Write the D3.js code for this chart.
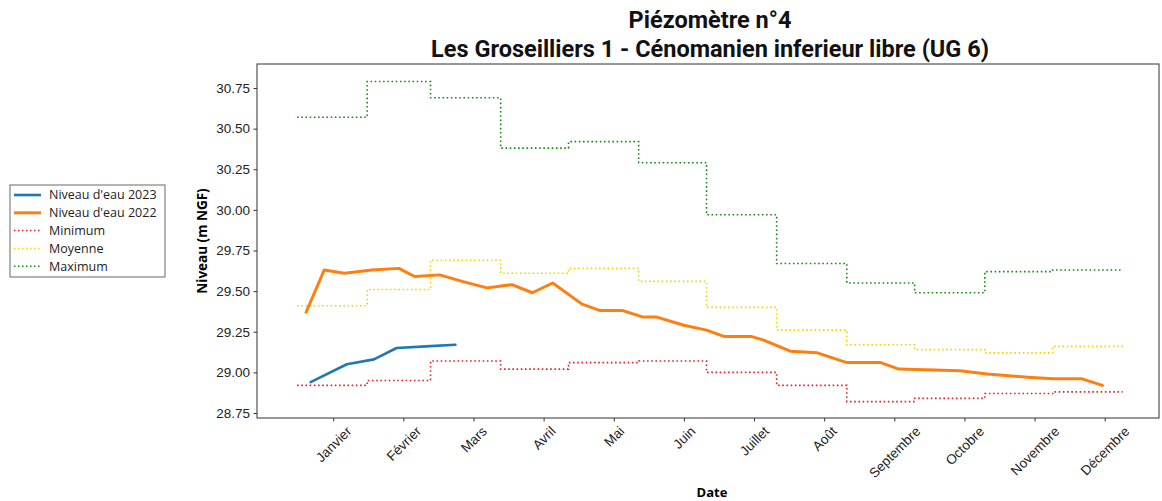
<!DOCTYPE html>
<html>
<head>
<meta charset="utf-8">
<script src="https://cdn.jsdelivr.net/npm/d3@7"></script>
<style>
  body { margin: 0; background: #fff; }
  svg { display: block; font-family: "Open Sans", sans-serif; }
  .tick text { fill: #222; }
</style>
</head>
<body>
<svg width="1162" height="501"></svg>
<script>
// day of year (0 = 1er janvier) for month starts, and end of year
var monthStarts = [0, 31, 59, 90, 120, 151, 181, 212, 243, 273, 304, 334, 365];

// monthly statistics
var minimum = [28.92, 28.95, 29.07, 29.02, 29.06, 29.07, 29.00, 28.92, 28.82, 28.84, 28.87, 28.88];
var moyenne = [29.41, 29.51, 29.69, 29.61, 29.64, 29.56, 29.40, 29.26, 29.17, 29.14, 29.12, 29.16];
var maximum = [30.57, 30.79, 30.69, 30.38, 30.42, 30.29, 29.97, 29.67, 29.55, 29.49, 29.62, 29.63];

// water level readings (day of year, value)
var days2022 = [4, 12, 21, 33, 45, 52, 63, 73, 84, 95, 104, 113, 126, 134, 144, 153, 159, 171, 181, 189, 201, 206, 218, 230, 243, 258, 266, 293, 305, 323, 334, 347, 356];
var niveau2022 = [29.37, 29.63, 29.61, 29.63, 29.64, 29.59, 29.60, 29.56, 29.52, 29.54, 29.49, 29.55, 29.42, 29.38, 29.38, 29.34, 29.34, 29.29, 29.26, 29.22, 29.22, 29.20, 29.13, 29.12, 29.06, 29.06, 29.02, 29.01, 28.99, 28.97, 28.96, 28.96, 28.92];
var days2023 = [6, 22, 34, 44, 57, 70];
var niveau2023 = [28.94, 29.05, 29.08, 29.15, 29.16, 29.17];

var tickDays = [16, 47, 78, 109, 140, 171, 202, 233, 264, 295, 326, 357];
var tickLabels = ["Janvier", "Février", "Mars", "Avril", "Mai", "Juin", "Juillet", "Août", "Septembre", "Octobre", "Novembre", "Décembre"];
var yTicks = [28.75, 29.00, 29.25, 29.50, 29.75, 30.00, 30.25, 30.50, 30.75];

var svg = d3.select("svg"),
    plotLeft = 257, plotRight = 1159, plotTop = 64, plotBottom = 418;

var x = d3.scaleLinear().domain([-17.7, 381]).range([plotLeft, plotRight]);
var y = d3.scaleLinear().domain([28.719, 30.898]).range([plotBottom, plotTop]);

// title
var title = svg.append("text")
    .attr("x", 710).attr("y", 28)
    .attr("text-anchor", "middle")
    .style("font-family", "Roboto, sans-serif")
    .style("font-weight", "bold")
    .style("font-size", "23.5px")
    .style("fill", "#111");
title.append("tspan").attr("x", 710).attr("dy", 0).text("Piézomètre n°4");
title.append("tspan").attr("x", 710).attr("dy", 29).text("Les Groseilliers 1 - Cénomanien inferieur libre (UG 6)");

// step series
function stepPoints(vals) {
  var pts = vals.map(function (v, i) { return [monthStarts[i], v]; });
  pts.push([monthStarts[12], vals[vals.length - 1]]);
  return pts;
}
var stepLine = d3.line()
    .x(function (d) { return x(d[0]); })
    .y(function (d) { return y(d[1]); })
    .curve(d3.curveStepAfter);
var plainLine = d3.line()
    .x(function (d) { return x(d[0]); })
    .y(function (d) { return y(d[1]); });

var stats = [
  { name: "Minimum", vals: minimum, color: "#e8202a" },
  { name: "Moyenne", vals: moyenne, color: "#f5d400" },
  { name: "Maximum", vals: maximum, color: "#1a8a1a" }
];

svg.selectAll("path.stat")
    .data(stats)
    .enter().append("path")
    .attr("class", "stat")
    .attr("d", function (d) { return stepLine(stepPoints(d.vals)); })
    .attr("fill", "none")
    .attr("stroke", function (d) { return d.color; })
    .attr("stroke-width", 1.6)
    .attr("stroke-dasharray", "1.6,2.6");

var levels = [
  { name: "Niveau d'eau 2022", pts: days2022.map(function (d, i) { return [d, niveau2022[i]]; }), color: "#ff7f0e", w: 3 },
  { name: "Niveau d'eau 2023", pts: days2023.map(function (d, i) { return [d, niveau2023[i]]; }), color: "#1f77b4", w: 2.6 }
];

svg.selectAll("path.level")
    .data(levels)
    .enter().append("path")
    .attr("class", "level")
    .attr("d", function (d) { return plainLine(d.pts); })
    .attr("fill", "none")
    .attr("stroke", function (d) { return d.color; })
    .attr("stroke-width", function (d) { return d.w; })
    .attr("stroke-linejoin", "round")
    .attr("stroke-linecap", "round");

// frame
svg.append("rect")
    .attr("x", plotLeft).attr("y", plotTop)
    .attr("width", plotRight - plotLeft).attr("height", plotBottom - plotTop)
    .attr("fill", "none").attr("stroke", "#333").attr("stroke-width", 1);

// y axis
var yAxis = svg.append("g")
    .attr("transform", "translate(" + plotLeft + ",0)")
    .call(d3.axisLeft(y).tickValues(yTicks).tickFormat(d3.format(".2f")).tickSize(3.5).tickPadding(3.5));
yAxis.select(".domain").remove();
yAxis.selectAll("text").style("font-size", "13.5px");
yAxis.selectAll("line").attr("stroke", "#333");

// x axis
var xAxis = svg.append("g")
    .attr("transform", "translate(0," + plotBottom + ")")
    .call(d3.axisBottom(x).tickValues(tickDays).tickFormat(function (d, i) { return tickLabels[i]; }).tickSize(3.5));
xAxis.select(".domain").remove();
xAxis.selectAll("line").attr("stroke", "#333");
xAxis.selectAll("text")
    .style("font-size", "13.5px")
    .attr("text-anchor", "middle")
    .attr("dy", null)
    .attr("dominant-baseline", "central")
    .each(function () {
      var w = this.getComputedTextLength(), h = 14;
      var off = 6 + (w + h) * Math.SQRT1_2 / 2;
      d3.select(this).attr("y", 0).attr("transform", "translate(0," + off + ") rotate(-45)");
    });

// axis labels
svg.append("text")
    .attr("x", 712).attr("y", 497)
    .attr("text-anchor", "middle")
    .style("font-weight", "bold").style("font-size", "13px")
    .text("Date");
svg.append("text")
    .attr("transform", "translate(207," + ((plotTop + plotBottom) / 2) + ") rotate(-90)")
    .attr("text-anchor", "middle")
    .style("font-weight", "bold").style("font-size", "13.5px")
    .text("Niveau (m NGF)");

// legend
var legendItems = [levels[1], levels[0]].map(function (d) { return { name: d.name, color: d.color, w: d.w, dotted: false }; })
    .concat(stats.map(function (d) { return { name: d.name, color: d.color, w: 1.5, dotted: true }; }));

var legend = svg.append("g").attr("transform", "translate(10,185)");
legend.append("rect")
    .attr("width", 155).attr("height", 92)
    .attr("fill", "#fff").attr("stroke", "#444").attr("stroke-width", 0.8);
var item = legend.selectAll("g.item")
    .data(legendItems)
    .enter().append("g")
    .attr("class", "item")
    .attr("transform", function (d, i) { return "translate(0," + (10 + i * 17.8) + ")"; });
item.append("line")
    .attr("x1", 4).attr("x2", 31)
    .attr("stroke", function (d) { return d.color; })
    .attr("stroke-width", function (d) { return d.dotted ? 1.5 : d.w; })
    .attr("stroke-dasharray", function (d) { return d.dotted ? "1.5,2.5" : null; });
item.append("text")
    .attr("x", 39).attr("dy", "0.35em")
    .style("font-size", "12.5px").style("fill", "#222")
    .text(function (d) { return d.name; });
</script>
</body>
</html>
